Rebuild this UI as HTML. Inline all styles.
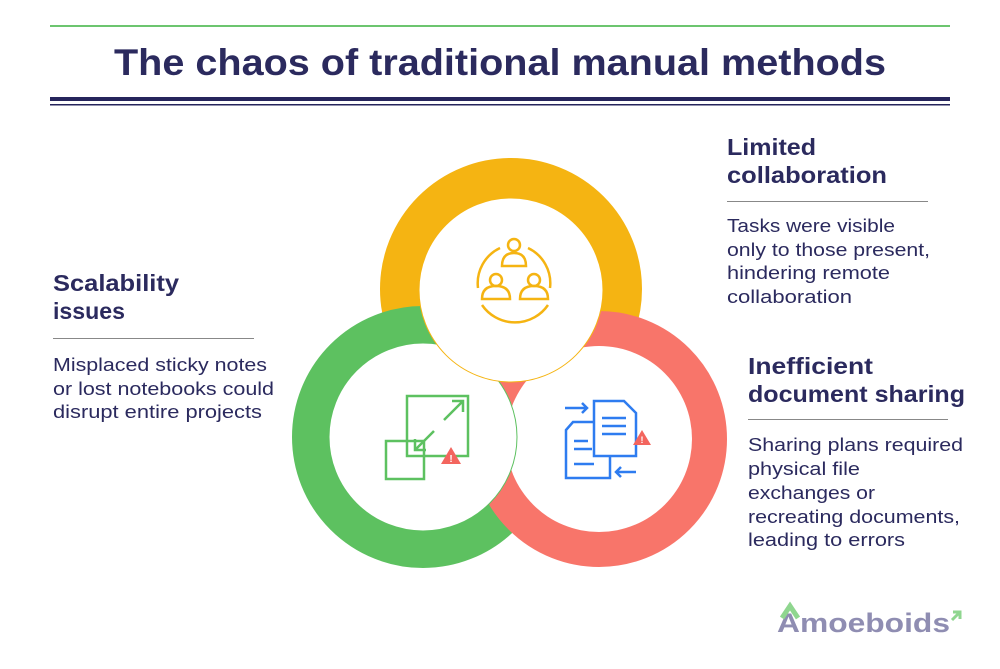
<!DOCTYPE html>
<html><head><meta charset="utf-8"><style>
html,body{margin:0;padding:0;background:#fff;}
svg{display:block;}
text{font-family:"Liberation Sans",sans-serif;fill:#2b2a5e;}
.h{font-weight:bold;font-size:23px;}
.b{font-size:18.5px;}
</style></head><body>
<svg width="1000" height="669" viewBox="0 0 1000 669" xmlns="http://www.w3.org/2000/svg">
<rect x="50" y="25" width="900" height="2" fill="#6cc56f"/>
<text x="500" y="75" text-anchor="middle" font-weight="bold" font-size="37" textLength="772" lengthAdjust="spacingAndGlyphs">The chaos of traditional manual methods</text>
<rect x="50" y="97" width="900" height="4" fill="#26255c"/>
<rect x="50" y="104" width="900" height="1.5" fill="#26255c"/>

<circle cx="511" cy="289" r="111" fill="none" stroke="#f5b412" stroke-width="40"/>
<circle cx="423" cy="437" r="112" fill="none" stroke="#5dc160" stroke-width="38"/>
<circle cx="599" cy="439" r="110" fill="none" stroke="#f8756a" stroke-width="36"/>
<circle cx="599" cy="439" r="93" fill="#fff"/>
<circle cx="423" cy="437" r="94" fill="#fff" stroke="#5dc160" stroke-width="1"/>
<circle cx="511" cy="290" r="92" fill="#fff" stroke="#f5b412" stroke-width="1"/>

<g fill="none" stroke="#f5b412" stroke-width="2.5">
<circle cx="514" cy="245" r="6"/>
<path d="M502 266 q0 -13 12 -13 q12 0 12 13 z"/>
<circle cx="496" cy="280" r="6"/>
<path d="M482 299 q0 -13 14 -13 q14 0 14 13 z"/>
<circle cx="534" cy="280" r="6"/>
<path d="M520 299 q0 -13 14 -13 q14 0 14 13 z"/>
<path d="M500 248 a39 39 0 0 0 -22 40"/>
<path d="M528 248 a39 39 0 0 1 22 40"/>
<path d="M482 305 a40 40 0 0 0 66 0"/>
</g>

<g fill="none" stroke="#5dc160" stroke-width="2.5">
<rect x="407" y="396" width="61" height="60"/>
<rect x="386" y="441" width="38" height="38"/>
<path d="M444 420 l19 -19 M452 401 h11 v11 M434 431 l-19 19 M415 439 v11 h11"/>
</g>
<path d="M441 464 l10 -17 l10 17 z" fill="#f3655e"/>
<text x="451" y="462" text-anchor="middle" font-size="10" font-weight="bold" style="fill:#fff">!</text>

<g fill="none" stroke="#2e7cf0" stroke-width="2.5">
<path d="M573 422 h37 v56 h-44 v-48 z"/>
<path d="M594 401 h30 l12 12 v43 h-42 z" fill="#fff"/>
<path d="M602 418 h24 M602 426 h24 M602 434 h24 M574 441 h14 M574 449 h18 M574 464 h20"/>
<path d="M565 408 h22 M582 403 l5 5 l-5 5"/>
<path d="M636 472 h-20 M621 467 l-5 5 l5 5"/>
</g>
<path d="M633 445 l9 -15 l9 15 z" fill="#f3655e"/>
<text x="642" y="443" text-anchor="middle" font-size="9" font-weight="bold" style="fill:#fff">!</text>

<text class="h" x="727" y="155" textLength="89" lengthAdjust="spacingAndGlyphs">Limited</text>
<text class="h" x="727" y="183" textLength="160" lengthAdjust="spacingAndGlyphs">collaboration</text>
<text class="b" x="727" y="232" textLength="168" lengthAdjust="spacingAndGlyphs">Tasks were visible</text>
<text class="b" x="727" y="256" textLength="203" lengthAdjust="spacingAndGlyphs">only to those present,</text>
<text class="b" x="727" y="279" textLength="163" lengthAdjust="spacingAndGlyphs">hindering remote</text>
<text class="b" x="727" y="303" textLength="125" lengthAdjust="spacingAndGlyphs">collaboration</text>

<text class="h" x="53" y="291" textLength="126" lengthAdjust="spacingAndGlyphs">Scalability</text>
<text class="h" x="53" y="319" textLength="72" lengthAdjust="spacingAndGlyphs">issues</text>
<text class="b" x="53" y="371" textLength="214" lengthAdjust="spacingAndGlyphs">Misplaced sticky notes</text>
<text class="b" x="53" y="395" textLength="221" lengthAdjust="spacingAndGlyphs">or lost notebooks could</text>
<text class="b" x="53" y="418" textLength="209" lengthAdjust="spacingAndGlyphs">disrupt entire projects</text>

<text class="h" x="748" y="374" textLength="125" lengthAdjust="spacingAndGlyphs">Inefficient</text>
<text class="h" x="748" y="402" textLength="217" lengthAdjust="spacingAndGlyphs">document sharing</text>
<text class="b" x="748" y="451" textLength="215" lengthAdjust="spacingAndGlyphs">Sharing plans required</text>
<text class="b" x="748" y="475" textLength="112" lengthAdjust="spacingAndGlyphs">physical file</text>
<text class="b" x="748" y="499" textLength="127" lengthAdjust="spacingAndGlyphs">exchanges or</text>
<text class="b" x="748" y="523" textLength="212" lengthAdjust="spacingAndGlyphs">recreating documents,</text>
<text class="b" x="748" y="546" textLength="157" lengthAdjust="spacingAndGlyphs">leading to errors</text>

<rect x="727" y="201" width="201" height="1" fill="#888"/>
<rect x="53" y="338" width="201" height="1" fill="#888"/>
<rect x="748" y="419" width="200" height="1" fill="#888"/>

<text x="777" y="632" font-size="27" font-weight="bold" style="fill:#8f8db2" textLength="173" lengthAdjust="spacingAndGlyphs">Amoeboids</text>
<path d="M782 618 l8 -12 l8 12" fill="none" stroke="#8fd68f" stroke-width="5"/>
<path d="M952 620 l8 -8 M953 612 h7 v7" fill="none" stroke="#8fd68f" stroke-width="3"/>
</svg>
</body></html>
